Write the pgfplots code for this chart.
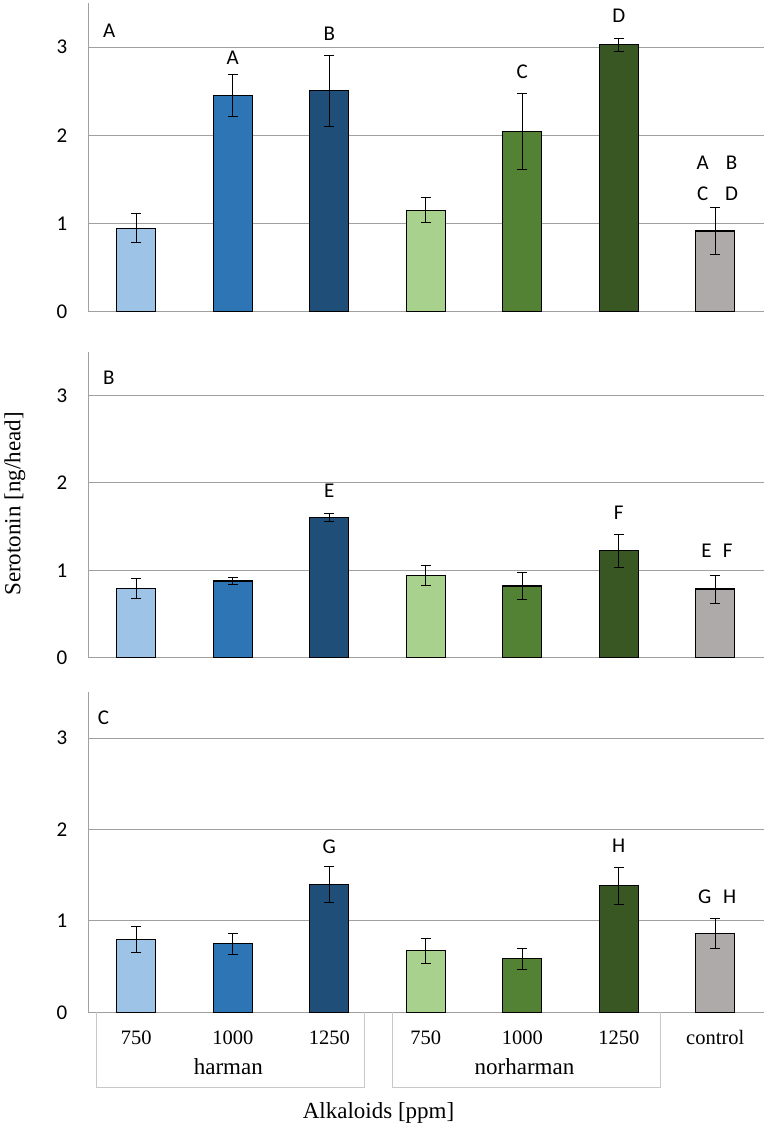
\documentclass[border=0pt]{standalone}
\usepackage{pgfplots}
\pgfplotsset{compat=1.18}
\usepackage{fontspec}
\setmainfont{Liberation Serif}
\newfontfamily\calfont{Carlito}
\definecolor{c1}{HTML}{9DC3E6}
\definecolor{c2}{HTML}{2E75B6}
\definecolor{c3}{HTML}{1F4E79}
\definecolor{c4}{HTML}{A9D18E}
\definecolor{c5}{HTML}{548235}
\definecolor{c6}{HTML}{385723}
\definecolor{c7}{HTML}{AEAAAA}
\definecolor{gridc}{HTML}{A0A0A0}
\definecolor{boxc}{HTML}{C8C8C8}
\newcommand{\lf}{\calfont\fontsize{21}{21}\selectfont}
\pgfplotsset{panel/.style={
  scale only axis, width=675.5pt,
  xmin=0.5, xmax=7.5, ymin=0, ymax=3.5,
  axis x line*=bottom, axis y line*=left,
  axis line style={gridc, line width=1pt, -},
  ytick={0,1,2,3}, yticklabels={0,1,2,3},
  yticklabel style={font=\calfont\fontsize{21}{21}\selectfont, inner sep=0pt, anchor=east, xshift=-20.5pt},
  xtick=\empty,
  ymajorgrids, grid style={gridc, line width=1pt},
  major tick length=0pt,
  ybar, bar width=38.7pt, bar shift=0pt,
  clip=false,
  every axis plot/.append style={draw=black, line width=1.1pt},
  error bars/y dir=both, error bars/y explicit,
  error bars/error bar style={black, line width=0.9pt},
  error bars/error mark options={black, line width=0.9pt, mark size=5pt, rotate=90},
}}
\tikzset{lab/.style={font=\lf, inner sep=0pt, anchor=center}}
\begin{document}
\begin{tikzpicture}
\path[use as bounding box] (0,0) rectangle (771pt,-1127pt);
% Panel A
\begin{axis}[panel, height=308.7pt, at={(88pt,-311.7pt)}, anchor=south west]
\addplot[fill=c1] coordinates {(1,0.9475) +- (0,0.1675)};
\addplot[fill=c2] coordinates {(2,2.45) +- (0,0.24)};
\addplot[fill=c3] coordinates {(3,2.505) +- (0,0.40)};
\addplot[fill=c4] coordinates {(4,1.15) +- (0,0.14)};
\addplot[fill=c5] coordinates {(5,2.04) +- (0,0.43)};
\addplot[fill=c6] coordinates {(6,3.025) +- (0,0.07)};
\addplot[fill=c7] coordinates {(7,0.915) +- (0,0.265)};
\node[lab, anchor=west] at (axis cs:0.655,3.18) {A};
\node[lab] at (axis cs:2,2.88) {A};
\node[lab] at (axis cs:3,3.146) {B};
\node[lab] at (axis cs:5,2.72) {C};
\node[lab] at (axis cs:6,3.35) {D};
\node[lab] at (axis cs:6.87,1.686) {A};
\node[lab] at (axis cs:7.17,1.686) {B};
\node[lab] at (axis cs:6.87,1.342) {C};
\node[lab] at (axis cs:7.17,1.342) {D};
\end{axis}
% Panel B
\begin{axis}[panel, height=306pt, at={(88pt,-657.7pt)}, anchor=south west]
\addplot[fill=c1] coordinates {(1,0.795) +- (0,0.115)};
\addplot[fill=c2] coordinates {(2,0.877) +- (0,0.04)};
\addplot[fill=c3] coordinates {(3,1.60) +- (0,0.045)};
\addplot[fill=c4] coordinates {(4,0.938) +- (0,0.115)};
\addplot[fill=c5] coordinates {(5,0.82) +- (0,0.15)};
\addplot[fill=c6] coordinates {(6,1.223) +- (0,0.19)};
\addplot[fill=c7] coordinates {(7,0.786) +- (0,0.16)};
\node[lab, anchor=west] at (axis cs:0.655,3.2) {B};
\node[lab] at (axis cs:3,1.91) {E};
\node[lab] at (axis cs:6,1.663) {F};
\node[lab] at (axis cs:6.91,1.219) {E};
\node[lab] at (axis cs:7.13,1.219) {F};
\end{axis}
% Panel C
\begin{axis}[panel, height=320pt, at={(88pt,-1012.3pt)}, anchor=south west,
  xtick={1,2,3,4,5,6,7},
  xticklabels={750,1000,1250,750,1000,1250,control},
  xticklabel style={font=\fontsize{20.5}{20.5}\selectfont, inner sep=0pt, anchor=base, yshift=-32pt}]
\addplot[fill=c1] coordinates {(1,0.798) +- (0,0.14)};
\addplot[fill=c2] coordinates {(2,0.75) +- (0,0.115)};
\addplot[fill=c3] coordinates {(3,1.40) +- (0,0.2)};
\addplot[fill=c4] coordinates {(4,0.673) +- (0,0.14)};
\addplot[fill=c5] coordinates {(5,0.586) +- (0,0.115)};
\addplot[fill=c6] coordinates {(6,1.384) +- (0,0.2)};
\addplot[fill=c7] coordinates {(7,0.863) +- (0,0.16)};
\node[lab, anchor=west] at (axis cs:0.6,3.22) {C};
\node[lab] at (axis cs:3,1.81) {G};
\node[lab] at (axis cs:6,1.82) {H};
\node[lab] at (axis cs:6.89,1.263) {G};
\node[lab] at (axis cs:7.15,1.263) {H};
\end{axis}
% group boxes and labels
\draw[boxc, line width=1pt] (96.7pt,-1012.3pt) -- (96.7pt,-1087.7pt) -- (364.3pt,-1087.7pt) -- (364.3pt,-1012.3pt);
\draw[boxc, line width=1pt] (392.7pt,-1012.3pt) -- (392.7pt,-1087.7pt) -- (660.3pt,-1087.7pt) -- (660.3pt,-1012.3pt);
\node[font=\fontsize{23}{23}\selectfont, inner sep=0pt, anchor=base] at (228.3pt,-1074.3pt) {harman};
\node[font=\fontsize{23}{23}\selectfont, inner sep=0pt, anchor=base] at (524.5pt,-1074.3pt) {norharman};
\node[font=\fontsize{23}{23}\selectfont, inner sep=0pt, anchor=base] at (378.5pt,-1118pt) {Alkaloids [ppm]};
\node[font=\fontsize{23}{23}\selectfont, inner sep=0pt, rotate=90, anchor=center] at (15pt,-504pt) {Serotonin [ng/head]};
\end{tikzpicture}
\end{document}
